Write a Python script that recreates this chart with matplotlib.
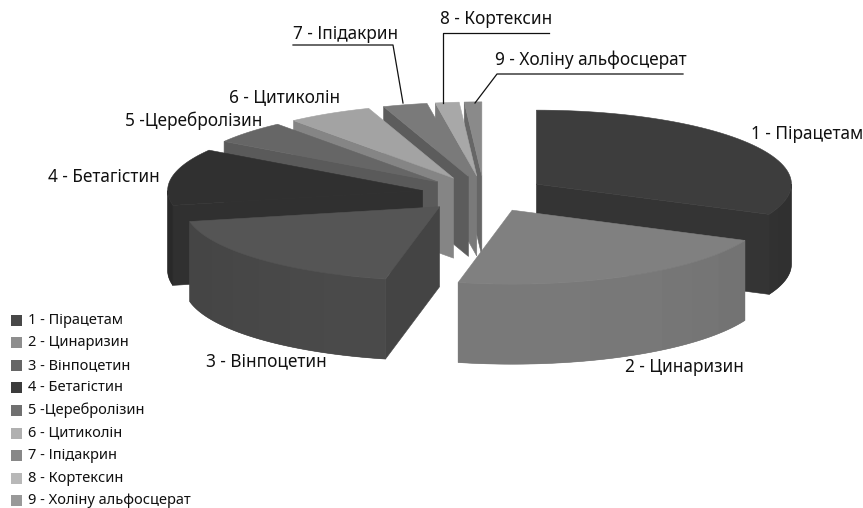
import numpy as np
from matplotlib import pyplot as plt
from matplotlib.colors import to_rgb
from matplotlib.patches import Polygon, Rectangle

plt.rcParams['font.family'] = ['Noto Sans', 'DejaVu Sans']

labels = ["1 - Пірацетам", "2 - Цинаризин", "3 - Вінпоцетин", "4 - Бетагістин", "5 -Церебролізин",
          "6 - Цитиколін", "7 - Іпідакрин", "8 - Кортексин", "9 - Холіну альфосцерат"]
values = [31.7, 21.7, 18.4, 12.4, 5.0, 5.4, 2.8, 1.5, 1.1]

top_colors = ["#3d3d3d", "#808080", "#555555", "#303030", "#666666", "#a3a3a3", "#7a7a7a", "#a8a8a8", "#8a8a8a"]
wall_colors = ["#343434", "#797979", "#4a4a4a", "#2c2c2c", "#5a5a5a", "#858585", "#5c5c5c", "#7a7a7a", "#666666"]
cut_colors = ["#343434", "#777777", "#444444", "#303030", "#5a5a5a", "#858585", "#5c5c5c", "#7a7a7a", "#666666"]
legend_colors = ["#484848", "#8e8e8e", "#666666", "#3c3c3c", "#707070", "#b0b0b0", "#888888", "#b8b8b8", "#999999"]

label_pos = [(751, 134), (625, 367), (206, 361), (48, 177), (125, 121), (229, 98), (293, 34), (440, 19), (495, 60)]
leaders = [((293, 45), (393, 45), (403, 103)), ((549, 33), (443, 33), (443, 103)), ((683, 74), (497, 74), (475, 103))]

CX, CY = 484, 194
RX, RY = 255, 74
DEPTH = 80
EXPLODE = 0.245
draw_order = [8, 7, 6, 5, 4, 3, 0, 2, 1]


def rim(a, b, ox, oy, n=60):
  t = np.radians(np.linspace(a, b, n))
  return np.column_stack([ox + RX * np.cos(t), oy - RY * np.sin(t)])


def draw_slice(ax, i, a, b):
  # a > b, slices go clockwise from 12 o'clock, angles run down to -270
  mid = np.radians((a + b) / 2)
  ox = CX + EXPLODE * RX * np.cos(mid)
  oy = CY - EXPLODE * RY * np.sin(mid)
  for t, visible in ((a, np.cos(np.radians(a)) < 0), (b, np.cos(np.radians(b)) > 0)):
    if visible:
      p = rim(t, t, ox, oy, 1)[0]
      ax.add_patch(Polygon([(ox, oy), p, p + (0, DEPTH), (ox, oy + DEPTH)], fc=cut_colors[i], ec=cut_colors[i], lw=0.4))
  # front wall in flat bands, only the part that faces the viewer (-180..0)
  lo, hi = max(b, -180), min(a, 0)
  if lo < hi:
    whole = rim(lo, hi, ox, oy)
    ax.add_patch(Polygon(np.vstack([whole, whole[::-1] + (0, DEPTH)]), fc=wall_colors[i], ec=wall_colors[i], lw=0.4))
    edges = [lo] + [s for s in np.arange(-180, 1, 9) if lo < s < hi] + [hi]
    for e0, e1 in zip(edges[:-1], edges[1:]):
      pts = rim(e0, e1, ox, oy, 6)
      shade = 1 - 0.08 * abs(np.cos(np.radians((e0 + e1) / 2))) ** 3
      ax.add_patch(Polygon(np.vstack([pts, pts[::-1] + (0, DEPTH)]), fc=np.array(to_rgb(wall_colors[i])) * shade, ec="none"))
  ax.add_patch(Polygon(np.vstack([[(ox, oy)], rim(a, b, ox, oy)]), fc=top_colors[i], ec=top_colors[i], lw=0.4))


fig = plt.figure(figsize=(8.63, 5.08), dpi=100)
ax = fig.add_axes([0, 0, 1, 1])
ax.set_xlim(0, 863)
ax.set_ylim(508, 0)
ax.axis("off")

sweep = np.array(values) / sum(values) * 360
ends = 90 - np.cumsum(sweep)
starts = ends + sweep
for i in draw_order:
  draw_slice(ax, i, starts[i], ends[i])

for line in leaders:
  xs, ys = zip(*line)
  ax.plot(xs, ys, color="#111111", lw=0.9)

for lab, (x, y) in zip(labels, label_pos):
  ax.text(x, y, lab, fontsize=12.4, color="#111111", ha="left", va="center")

for i, lab in enumerate(labels):
  y = 320 + i * 22.6
  ax.add_patch(Rectangle((11, y - 5.5), 11, 11, fc=legend_colors[i], ec="none"))
  ax.text(28, y, lab, fontsize=10.5, color="#111111", ha="left", va="center")

fig.savefig("out.png", dpi=100)
